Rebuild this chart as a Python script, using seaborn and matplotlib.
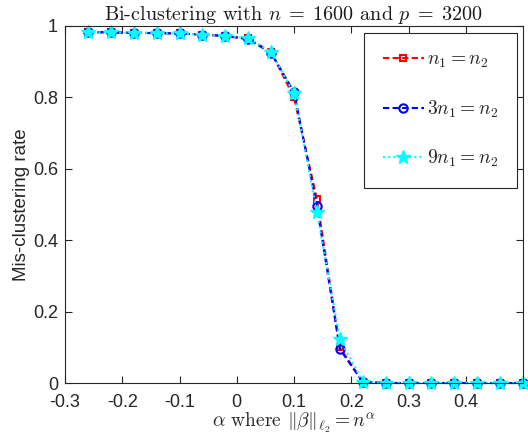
import numpy as np
import pandas as pd
import matplotlib
matplotlib.use("Agg")
import matplotlib.pyplot as plt
import seaborn as sns

# ---- data ----
alpha = [-0.26, -0.22, -0.18, -0.14, -0.10, -0.06, -0.02, 0.02, 0.06, 0.10,
         0.14, 0.18, 0.22, 0.26, 0.30, 0.34, 0.38, 0.42, 0.46, 0.50]
rate_equal = [0.983, 0.982, 0.981, 0.980, 0.979, 0.976, 0.972, 0.965, 0.927, 0.800,
              0.515, 0.100, 0.004, 0.0, 0.0, 0.0, 0.0, 0.0, 0.0, 0.0]
rate_3 = [0.983, 0.982, 0.981, 0.980, 0.979, 0.976, 0.972, 0.963, 0.925, 0.815,
          0.496, 0.095, 0.003, 0.0, 0.0, 0.0, 0.0, 0.0, 0.0, 0.0]
rate_9 = [0.983, 0.982, 0.981, 0.980, 0.979, 0.976, 0.972, 0.966, 0.927, 0.812,
          0.480, 0.123, 0.004, 0.0, 0.0, 0.0, 0.0, 0.0, 0.0, 0.0]
labels = [r"$n_1 = n_2$", r"$3n_1 = n_2$", r"$9n_1 = n_2$"]
xticks = [-0.3, -0.2, -0.1, 0, 0.1, 0.2, 0.3, 0.4]
yticks = [0, 0.2, 0.4, 0.6, 0.8, 1]

sns.set_style("ticks")
plt.rcParams["font.family"] = ["Liberation Sans", "DejaVu Sans"]
plt.rcParams["mathtext.fontset"] = "cm"

fig = plt.figure(figsize=(5.28, 4.38), dpi=100)
ax = fig.add_axes([65 / 528, 1 - 383 / 438, (523 - 65) / 528, (383 - 26) / 438])

styles = [
    dict(color="red", dashes=(3, 1.6), marker="s", markersize=4,
         markerfacecolor="none", markeredgecolor="red", markeredgewidth=1.5),
    dict(color="blue", dashes=(3, 1.6), marker="o", markersize=6,
         markerfacecolor="none", markeredgecolor="blue", markeredgewidth=1.5),
    dict(color="cyan", dashes=(1, 1.5), marker="*", markersize=10,
         markerfacecolor="cyan", markeredgecolor="cyan", markeredgewidth=1.0),
]
for ys, lab, st in zip([rate_equal, rate_3, rate_9], labels, styles):
    df = pd.DataFrame({"alpha": alpha, "rate": ys})
    sns.lineplot(data=df, x="alpha", y="rate", ax=ax, label=lab,
                 linewidth=1.5, clip_on=False, **st)

ax.set_xlim(-0.3, 0.5)
ax.set_ylim(0, 1)
ax.set_xticks(xticks)
ax.set_xticklabels([("%g" % t) for t in xticks])
ax.set_yticks(yticks)
ax.set_yticklabels([("%g" % t) for t in yticks])
ax.tick_params(direction="in", top=True, right=True, labelsize=13,
               color="0.15", labelcolor="0.15", length=5, width=0.8)
ax.tick_params(axis="x", pad=8)
ax.tick_params(axis="y", pad=5)
for s in ax.spines.values():
    s.set_visible(True)
    s.set_color("0.15")
    s.set_linewidth(0.8)

ax.set_xlabel(r"$\alpha$ where $\|\beta\|_{\ell_2} = n^{\alpha}$",
              fontfamily="cmr10", fontsize=14, color="0.15", labelpad=0)
ax.set_ylabel("Mis-clustering rate", fontsize=13.5, color="0.15", labelpad=2)
ax.set_title(r"Bi-clustering with $n\;=\;1600$ and $p\;=\;3200$",
             fontfamily="cmr10", fontsize=14.5, color="0.1", pad=4)

leg = ax.legend(loc="upper right", bbox_to_anchor=(517 / 528, 1 - 33 / 438),
                bbox_transform=fig.transFigure, fontsize=14, frameon=True,
                fancybox=False, edgecolor="0.15", framealpha=1,
                handlelength=2.1, handletextpad=0.2, labelspacing=1.45,
                borderpad=0.95, borderaxespad=0)
leg.get_frame().set_linewidth(0.8)

fig.savefig("out.png", dpi=100)
